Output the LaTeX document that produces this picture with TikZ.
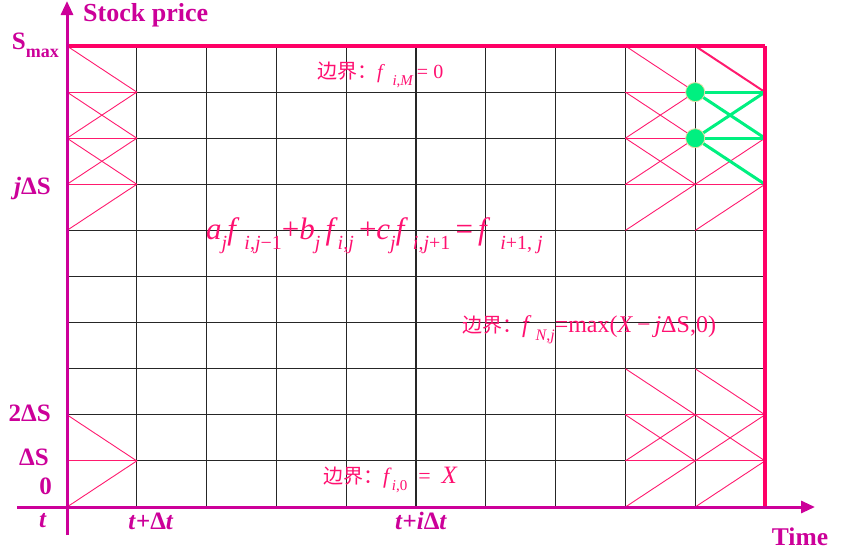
\documentclass[tikz,border=0pt]{standalone}
\usepackage{fontspec}
\setmainfont{Liberation Serif}
\newfontfamily\cjk{Noto Sans CJK SC}
\usetikzlibrary{arrows.meta}
\definecolor{axiscol}{HTML}{CC0099}
\definecolor{pinkline}{HTML}{FF1A6E}
\definecolor{edgecol}{HTML}{FF0066}
\definecolor{formcol}{HTML}{FF1070}
\definecolor{greenline}{HTML}{00F080}
\definecolor{dotrim}{HTML}{E6D9A0}
% lowered index, PowerPoint style
\newcommand{\lo}[2][16]{\raisebox{-0.7ex}{\fontsize{#1}{#1}\selectfont #2}}

\begin{document}
\begin{tikzpicture}[x=1pt, y=-1pt, >={Triangle[length=14pt,width=12pt]},
  gridline/.style={black!85, line width=1.1pt},
  stencil/.style={pinkline, line width=0.9pt},
  greenedge/.style={greenline, line width=3pt},
  edge/.style={edgecol, line width=3.2pt},
  axis/.style={axiscol, line width=3pt},
  axlabel/.style={text=axiscol, font=\bfseries\fontsize{25}{27}\selectfont, inner sep=0pt},
  formula/.style={text=formcol, inner sep=0pt},
  dot/.style={circle, fill=greenline, draw=dotrim, line width=0.8pt, minimum size=19pt, inner sep=0pt}]
\useasboundingbox (0,0) rectangle (857,552);

% grid points (i = time step, j = price step)
\foreach \i in {0,...,10}
  \foreach \j in {0,...,10}
    \coordinate (g-\i-\j) at ({67+69.8*\i},{507-46.1*\j});

% mesh
\foreach \i in {1,...,9}
  \draw[gridline] (g-\i-0) -- (g-\i-10);
\foreach \j in {1,...,9}
  \draw[gridline] (g-0-\j) -- (g-10-\j);

% implicit stencils
\foreach \i/\j in {0/9,0/8,0/7,0/1,8/9,8/8,8/7,8/2,8/1,9/2,9/1}{
  \pgfmathtruncatemacro\ni{\i+1}
  \pgfmathtruncatemacro\jm{\j-1}
  \pgfmathtruncatemacro\jp{\j+1}
  \draw[stencil] (g-\i-\jm) -- (g-\ni-\j) -- (g-\i-\jp);
  \draw[stencil] (g-\i-\j) -- (g-\ni-\j);
}
\draw[stencil, line width=2pt] (g-9-10) -- (g-10-9);
\draw[stencil] (g-9-9) -- (g-10-9);
\draw[stencil] (g-9-8) -- (g-10-8);
\draw[stencil] (g-9-7) -- (g-10-8);
\draw[stencil] (g-9-7) -- (g-10-7);
\draw[stencil] (g-9-6) -- (g-10-7);

% highlighted stencil
\draw[greenedge] (g-9-9) -- (g-10-9);
\draw[greenedge] (g-9-9) -- (g-10-8);
\draw[greenedge] (g-9-8) -- (g-10-9);
\draw[greenedge] (g-9-8) -- (g-10-8);
\draw[greenedge] (g-9-8) -- (g-10-7);
\node[dot] (d-top) at (g-9-9) {};
\node[dot] (d-low) at (g-9-8) {};

% boundaries
\draw[edge] (g-0-10) -- (g-10-10);
\draw[edge, line width=3.6pt] (g-10-10) -- (g-10-0);

% axes
\coordinate (ytop) at (67,1);
\coordinate (ybot) at (67,535);
\coordinate (xleft) at (17,507);
\coordinate (xright) at (815,507);
\draw[axis, ->] (ybot) -- (ytop);
\draw[axis, ->] (xleft) -- (xright);

% axis labels
\node[axlabel, anchor=west, font=\bfseries\fontsize{26}{28}\selectfont] (ylab) at (83,15) {Stock price};
\node[axlabel, anchor=east] (smax) at (59,45) {S\lo[18]{max}};
\node[axlabel, anchor=east] (jds) at (51,188) {\textit{j}ΔS};
\node[axlabel, anchor=east] (tds) at (51,413) {2ΔS};
\node[axlabel, anchor=east] (ds) at (49,457) {ΔS};
\node[axlabel, anchor=east] (zero) at (52,486) {0};
\node[axlabel] (t0) at (43,521) {\textit{t}};
\node[axlabel] (t1) at (151,521) {\textit{t}+Δ\textit{t}};
\node[axlabel] (ti) at (421,521) {\textit{t}+\textit{i}Δ\textit{t}};
\node[axlabel, font=\bfseries\fontsize{25.5}{27}\selectfont] (tlab) at (800,537) {Time};

% scheme and boundary conditions
\node[formula, anchor=west, font=\fontsize{31}{33}\selectfont] (scheme) at (206,236)
  {\textit{a}\lo[20]{\textit{j}}\textit{f}\lo[20]{\ \textit{i},\textit{j}−1}+\textit{b}\lo[20]{\textit{j}}\,\textit{f}\lo[20]{\textit{i},\textit{j}}\,+\textit{c}\lo[20]{\textit{j}}\textit{f}\lo[20]{\ \textit{i},\textit{j}+1}\,=\,\textit{f}\lo[20]{\ \ \textit{i}+1, \textit{j}}};
\node[formula, anchor=west, font=\fontsize{20}{22}\selectfont] (topbc) at (317,75)
  {{\cjk\fontsize{20}{22}\selectfont 边界：}\textit{f}\lo[15]{\ \ \textit{i},\textit{M}}\,=\ 0};
\node[formula, anchor=west, font=\fontsize{24}{26}\selectfont] (rightbc) at (462,330)
  {{\cjk\fontsize{20}{22}\selectfont 边界：}\textit{f}\lo[16]{\ \textit{N},\textit{j}}=max(\textit{X}\,−\,\textit{j}ΔS,0)};
\node[formula, anchor=west, font=\fontsize{22}{24}\selectfont] (botbc) at (323,480)
  {{\cjk\fontsize{20}{22}\selectfont 边界：}\textit{f}\lo[15]{\textit{i},0}\enspace=\enspace{\fontsize{25}{27}\selectfont\textit{X}}};
\end{tikzpicture}
\end{document}
